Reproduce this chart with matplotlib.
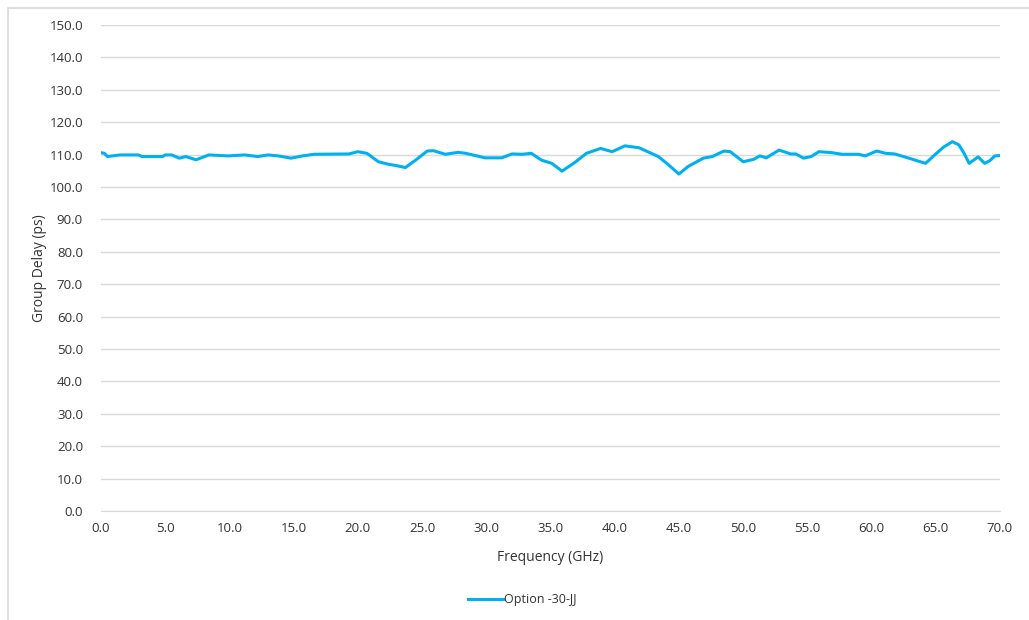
"""Group delay vs. frequency for the Option -30-JJ cable assembly.
"""

import numpy as np
import matplotlib
matplotlib.use("Agg")
import matplotlib.pyplot as plt
from matplotlib.patches import Rectangle

# Measured group delay trace (GHz, ps)
freq_ghz = [0.0, 0.26, 0.5, 1.5, 2.9, 3.2, 4.8, 5.0, 5.5, 6.1, 6.6, 7.4, 8.4,
            9.9, 11.2, 12.2, 13.0, 13.8, 14.8, 15.7, 16.6, 19.3, 20.0, 20.7,
            21.6, 22.4, 23.0, 23.7, 24.5, 25.4, 25.9, 26.8, 27.8, 28.4, 29.9,
            31.2, 32.0, 32.8, 33.5, 34.3, 35.1, 35.9, 36.9, 37.8, 38.9, 39.8,
            40.8, 41.9, 43.4, 44.2, 45.0, 45.7, 46.9, 47.6, 48.5, 49.0, 50.0,
            50.8, 51.3, 51.8, 52.8, 53.7, 54.1, 54.7, 55.3, 55.9, 56.9, 57.7,
            59.0, 59.5, 60.4, 61.1, 61.8, 62.9, 64.2, 65.0, 65.6, 66.3, 66.8,
            67.2, 67.6, 68.3, 68.8, 69.2, 69.6, 70.0]
group_delay_ps = [110.6, 110.4, 109.4, 109.9, 109.9, 109.4, 109.4, 109.9,
                  109.9, 108.9, 109.4, 108.4, 109.9, 109.6, 109.9, 109.4,
                  109.9, 109.6, 108.9, 109.6, 110.1, 110.2, 110.9, 110.4,
                  107.8, 107.0, 106.6, 106.0, 108.3, 111.1, 111.2, 110.1,
                  110.7, 110.4, 109.0, 109.0, 110.2, 110.1, 110.4, 108.3,
                  107.3, 104.9, 107.6, 110.4, 111.9, 110.9, 112.7, 112.1,
                  109.4, 106.8, 104.0, 106.3, 108.9, 109.4, 111.1, 110.9,
                  107.8, 108.5, 109.6, 109.0, 111.4, 110.2, 110.2, 108.9,
                  109.4, 110.9, 110.6, 110.1, 110.1, 109.6, 111.1, 110.4,
                  110.2, 108.9, 107.3, 110.2, 112.3, 114.0, 113.0, 110.4,
                  107.3, 109.3, 107.3, 108.1, 109.6, 109.7]
series_name = "Option -30-JJ"

x_ticks = np.arange(0, 70.1, 5)
y_ticks = np.arange(0, 150.1, 10)

text_color = "#333333"
grid_color = "#D9D9D9"
line_color = "#00B0F0"

plt.rcParams["font.family"] = ["Open Sans", "DejaVu Sans"]

fig = plt.figure(figsize=(10.29, 6.2), dpi=100)

# chart frame (runs off the right and bottom edges)
fig.patches.append(Rectangle((8 / 1029, -0.1), 1.2, 1.1 - 8 / 620,
                             transform=fig.transFigure, fill=False,
                             edgecolor=grid_color, linewidth=1.2))

ax = fig.add_axes([101 / 1029, 1 - 511 / 620, 899 / 1029, 486 / 620])

ax.plot(freq_ghz, group_delay_ps, color=line_color, linewidth=2.2,
        label=series_name, solid_joinstyle="round")

ax.set_xlim(0, 70)
ax.set_ylim(0, 150)
ax.set_xticks(x_ticks)
ax.set_yticks(y_ticks)
ax.set_xticklabels([f"{t:.1f}" for t in x_ticks])
ax.set_yticklabels([f"{t:.1f}" for t in y_ticks])
ax.tick_params(length=0, labelsize=9.5, colors=text_color)
ax.tick_params(axis="x", pad=8)
ax.tick_params(axis="y", pad=13)

ax.grid(axis="y", color=grid_color, linewidth=1.0)
ax.set_axisbelow(True)
for side in ["top", "right", "left"]:
    ax.spines[side].set_visible(False)
ax.spines["bottom"].set_color(grid_color)

ax.set_xlabel("Frequency (GHz)", fontsize=10, color=text_color, labelpad=11)
ax.set_ylabel("Group Delay (ps)", fontsize=10, color=text_color, labelpad=2)

fig.legend(loc="center", bbox_to_anchor=(522 / 1029, 1 - 600 / 620),
           frameon=False, fontsize=9, labelcolor=text_color,
           handlelength=2.8, handletextpad=0.1)

fig.savefig("out.png", dpi=100)
